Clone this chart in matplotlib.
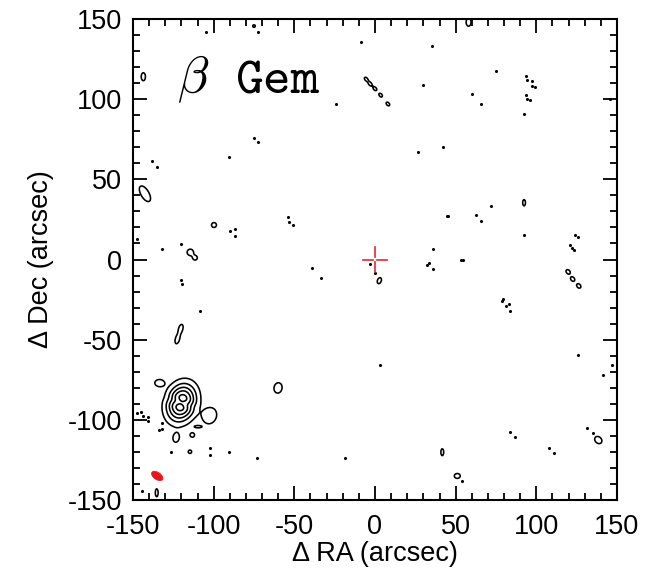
import numpy as np
import matplotlib
matplotlib.use("Agg")
import matplotlib.pyplot as plt
from matplotlib.ticker import MultipleLocator
from matplotlib.patches import Ellipse

plt.rcParams['font.family'] = ['Liberation Sans', 'DejaVu Sans']
plt.rcParams['axes.unicode_minus'] = False
plt.rcParams['mathtext.fontset'] = 'cm'

# ---- emission components (arcsec offsets), contoured ----
blob_x   = [-120.0, -120.0,
            -133.7, -102.3, -109.7, -113.2, -123.3, -114.7,
            -143.6, -142.6, -99.8, -114.5, -111.5, -120.4, -122.5,
            -60.1, -135.3, -75.0,
            -5.5, -3.0, 0.0, 3.5, 8.0,
            58.0, 92.4, 119.7, 122.5, 126.3, 2.7,
            138.4, 41.7, 51.0]
blob_y   = [-89.3, -89.3,
            -77.0, -97.5, -104.3, -109.5, -111.5, -119.9,
            114.0, 41.0, 21.5, 4.5, 1.0, -43.2, -49.8,
            -80.1, -145.5, 145.6,
            112.5, 109.5, 106.5, 102.5, 97.0,
            148.0, 35.4, -7.7, -12.2, -16.5, -13.2,
            -112.6, -120.2, -135.0]
blob_amp = [6.1, -1.2,
            1.8, 1.8, 1.5, 1.5, 1.4, 1.6,
            1.8, 1.8, 1.8, 1.8, 1.6, 1.8, 1.8,
            1.8, 1.8, 1.5,
            1.6, 1.6, 1.6, 1.6, 1.6,
            1.8, 1.8, 1.7, 1.7, 1.7, 1.8,
            1.8, 1.8, 1.8]
blob_su  = [8.2, 1.8,
            2.5, 4.6, 1.9, 1.4, 2.8, 1.1,
            2.3, 5.0, 1.4, 1.8, 1.4, 2.6, 2.6,
            3.0, 2.3, 0.9,
            1.4, 1.4, 1.4, 1.4, 1.4,
            2.3, 1.8, 1.5, 1.5, 1.5, 1.8,
            2.3, 2.0, 1.7]
blob_sv  = [6.1, 5.2,
            1.9, 3.7, 0.6, 1.4, 2.0, 1.1,
            1.2, 2.3, 1.4, 1.8, 1.4, 1.2, 1.2,
            2.3, 0.8, 0.9,
            0.9, 0.9, 0.9, 0.9, 0.9,
            1.4, 0.8, 1.1, 1.1, 1.1, 1.1,
            1.8, 0.8, 1.4]
blob_ang = [72, 72,
            0, 70, 0, 0, 80, 0,
            90, -60, 0, 0, 0, 75, 75,
            80, 90, 0,
            -50, -50, -50, -50, -50,
            90, 90, -50, -50, -50, 70,
            -45, 90, 0]

contour_levels = [1.0, 2.0, 3.0, 4.0, 5.0]

# ---- weak negative noise peaks (rendered as dots) ----
dot_x = [-104.7, -72.3, -8.9, -24.4, -75.0, 35.5, 75.0, 93.6, 94.0, 97.3, 97.3, 99.0,
         93.6, 94.4, 96.1, 29.6, 60.0, 65.7, 92.4, 145.7, 26.9, 42.0, 71.9, 44.4, 45.5,
         62.6, 65.7, 92.4, 124.0, 126.0, 120.9, 122.0, 123.4, 35.8, 53.3, 54.5, 32.0,
         33.7, 35.8, 79.2, 78.5, 81.2, 82.9, 83.7, 3.1, 126.0, 141.1, 146.9, 83.7, 86.8,
         131.6, 135.0, 107.9, 111.0, 53.7, -72.7, -90.3, -138.0, -135.3, -89.9, -86.8,
         -86.6, -53.9, -53.5, -51.0, -147.3, -132.2, -120.2, -33.3, -3.1, 0.0, -120.2,
         -119.6, -108.3, -147.7, -145.0, -143.6, -140.5, -140.5, -132.2, -133.7, -131.8,
         -126.4, -102.3, -102.3, -90.3, -144.6, -73.1, -18.6, -39.0]
dot_y = [142.1, 142.1, 135.8, 96.8, 75.8, 133.3, 117.6, 114.4, 111.8, 111.3, 108.4, 107.8,
         102.4, 100.3, 99.5, 109.0, 103.0, 97.0, 90.7, 100.0, 66.9, 70.0, 33.6, 27.3, 27.3,
         27.8, 24.2, 15.5, 15.5, 13.8, 9.0, 7.0, 6.0, 6.5, -0.3, -0.3, -3.4,
         -2.0, -5.9, -24.6, -25.7, -29.0, -27.8, -32.0, -66.0, -59.6, -71.8, -65.8, -107.8, -110.9,
         -104.9, -108.0, -117.8, -120.9, -138.2, 73.1, 64.1, 61.4, 57.9, 18.0, 18.8,
         14.8, 26.3, 23.6, 21.7, 12.6, 6.5, 9.7, -11.5, -3.0, -8.6, -12.8,
         -15.5, -31.9, -96.0, -95.3, -97.6, -98.0, -100.5, -101.8, -106.3, -105.7,
         -119.9, -117.8, -121.9, -119.9, -144.4, -123.8, -123.8, -5.5]

# ---- beam and star position ----
beam_x, beam_y, beam_major, beam_minor, beam_pa = -135.0, -135.0, 8.0, 4.5, -35
star_x, star_y = 0.0, 0.0

# ---- build field ----
g = np.arange(-150, 150.01, 0.5)
X, Y = np.meshgrid(g, g)
Z = np.zeros_like(X)
for x0, y0, a, su, sv, ang in zip(blob_x, blob_y, blob_amp, blob_su, blob_sv, blob_ang):
    t = np.deg2rad(ang)
    dx, dy = X - x0, Y - y0
    u = dx * np.cos(t) + dy * np.sin(t)
    v = -dx * np.sin(t) + dy * np.cos(t)
    Z += a * np.exp(-(u**2 / (2 * su**2) + v**2 / (2 * sv**2)))

fig = plt.figure(figsize=(6.46, 5.69), dpi=100)
ax = fig.add_axes([133/646, 69/569, 484/646, 481/569])

ax.contour(X, Y, Z, levels=contour_levels, colors='black', linewidths=1.15)
ax.scatter(dot_x, dot_y, s=5.0, color='black', linewidths=0)

# star cross
arm_in, arm_out = 1.5, 7.5
for sx, sy in [(1, 0), (-1, 0), (0, 1), (0, -1)]:
    ax.plot([star_x + sx*arm_in, star_x + sx*arm_out], [star_y + sy*arm_in, star_y + sy*arm_out],
            color='#e8282a', lw=1.2)

ax.add_patch(Ellipse((beam_x, beam_y), beam_major, beam_minor, angle=beam_pa,
                     facecolor='#e8161a', edgecolor='#e8161a', lw=0.5))

ax.text(-123, 104, r'$\beta$', fontsize=37, va='baseline')
ax.text(-86.5, 104, r'$\mathtt{Gem}$', fontsize=38, va='baseline')

ax.set_xlim(-150, 150)
ax.set_ylim(-150, 150)
ticks = [-150, -100, -50, 0, 50, 100, 150]
ax.set_xticks(ticks)
ax.set_yticks(ticks)
ax.xaxis.set_minor_locator(MultipleLocator(10))
ax.yaxis.set_minor_locator(MultipleLocator(10))
ax.tick_params(which='both', direction='in', top=True, right=True, width=1.3, labelsize=19.5)
ax.tick_params(which='major', length=10)
ax.tick_params(which='minor', length=5)
ax.tick_params(axis='x', pad=10)
ax.tick_params(axis='y', pad=8)
for sp in ax.spines.values():
    sp.set_linewidth(1.5)

ax.set_xlabel('Δ RA (arcsec)', fontsize=19.5)
ax.set_ylabel('Δ Dec (arcsec)', fontsize=19.5)
ax.xaxis.set_label_coords(0.5, -0.085)
ax.yaxis.set_label_coords(-0.163, 0.5)

fig.savefig('out.png', dpi=100)
